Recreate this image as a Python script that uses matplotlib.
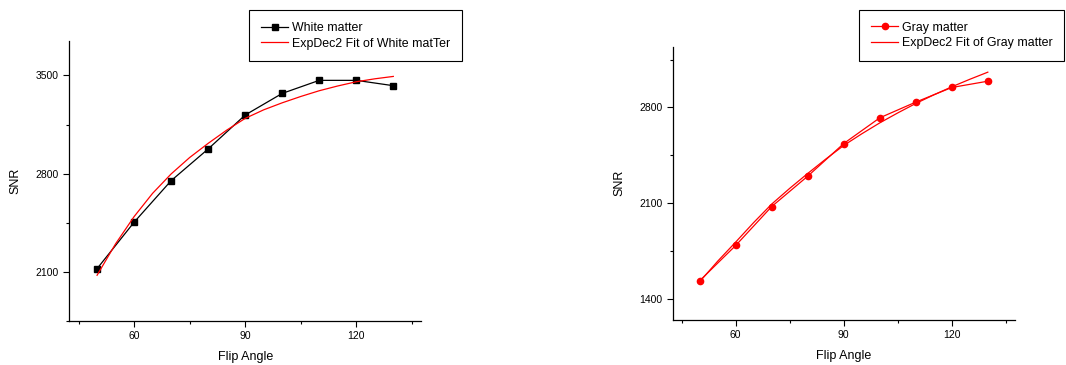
import matplotlib
matplotlib.use("Agg")
import matplotlib.pyplot as plt
from matplotlib.ticker import MultipleLocator

plt.rcParams['font.family'] = ['Liberation Sans', 'DejaVu Sans']

# Data
flip_angle = [50, 60, 70, 80, 90, 100, 110, 120, 130]
white_snr = [2123, 2454, 2750, 2976, 3218, 3372, 3465, 3465, 3427]
gray_snr = [1532, 1790, 2075, 2297, 2536, 2724, 2839, 2946, 2992]

# Fitted curves (ExpDec2), sampled every 5 degrees
fit_angle = [50, 55, 60, 65, 70, 75, 80, 85, 90, 95, 100, 105, 110, 115, 120, 125, 130]
white_fit = [2076, 2300, 2494, 2660, 2798, 2915, 3016, 3110, 3194, 3255, 3305, 3350,
             3391, 3425, 3455, 3476, 3493]
gray_fit = [1525, 1675, 1815, 1958, 2093, 2208, 2317, 2422, 2522, 2607, 2687, 2760,
            2829, 2892, 2951, 3006, 3058]

fig = plt.figure(figsize=(10.66, 3.65), dpi=100)

ax1 = fig.add_axes([0.065, 0.1205, 0.330, 0.767])
ax2 = fig.add_axes([0.631, 0.1233, 0.321, 0.749])


def style_axes(ax, ylim):
    ax.set_xlim(42.5, 137.5)
    ax.set_ylim(*ylim)
    ax.spines['top'].set_visible(False)
    ax.spines['right'].set_visible(False)
    ax.spines['left'].set_linewidth(0.9)
    ax.spines['bottom'].set_linewidth(0.9)
    ax.xaxis.set_major_locator(MultipleLocator(30))
    ax.xaxis.set_minor_locator(MultipleLocator(15))
    ax.yaxis.set_major_locator(MultipleLocator(700))
    ax.yaxis.set_minor_locator(MultipleLocator(350))
    ax.tick_params(which='major', direction='out', length=4, width=0.8, labelsize=7.5)
    ax.tick_params(which='minor', direction='out', length=2.5, width=0.8)
    ax.set_xlabel('Flip Angle', fontsize=9, labelpad=7)
    ax.set_ylabel('SNR', fontsize=9, labelpad=10)


# White matter
ax1.plot(flip_angle, white_snr, color='black', lw=0.9, marker='s', ms=4,
         label='White matter')
ax1.plot(fit_angle, white_fit, color='red', lw=0.9,
         label='ExpDec2 Fit of White matTer')
style_axes(ax1, (1750, 3745))

# Gray matter
ax2.plot(flip_angle, gray_snr, color='red', lw=0.9, marker='o', ms=4.5,
         label='Gray matter')
ax2.plot(fit_angle, gray_fit, color='red', lw=0.9,
         label='ExpDec2 Fit of Gray matter')
style_axes(ax2, (1245, 3245))

for ax, pos in [(ax1, (0.234, 0.972)), (ax2, (0.806, 0.973))]:
    leg = ax.legend(loc='upper left', bbox_to_anchor=pos, bbox_transform=fig.transFigure,
                    fontsize=8.9, fancybox=False, edgecolor='black', framealpha=1,
                    handlelength=2.2, handletextpad=0.3, labelspacing=0.3,
                    borderpad=0.95, borderaxespad=0)
    leg.get_frame().set_linewidth(0.8)

fig.savefig('out.png', dpi=100)
